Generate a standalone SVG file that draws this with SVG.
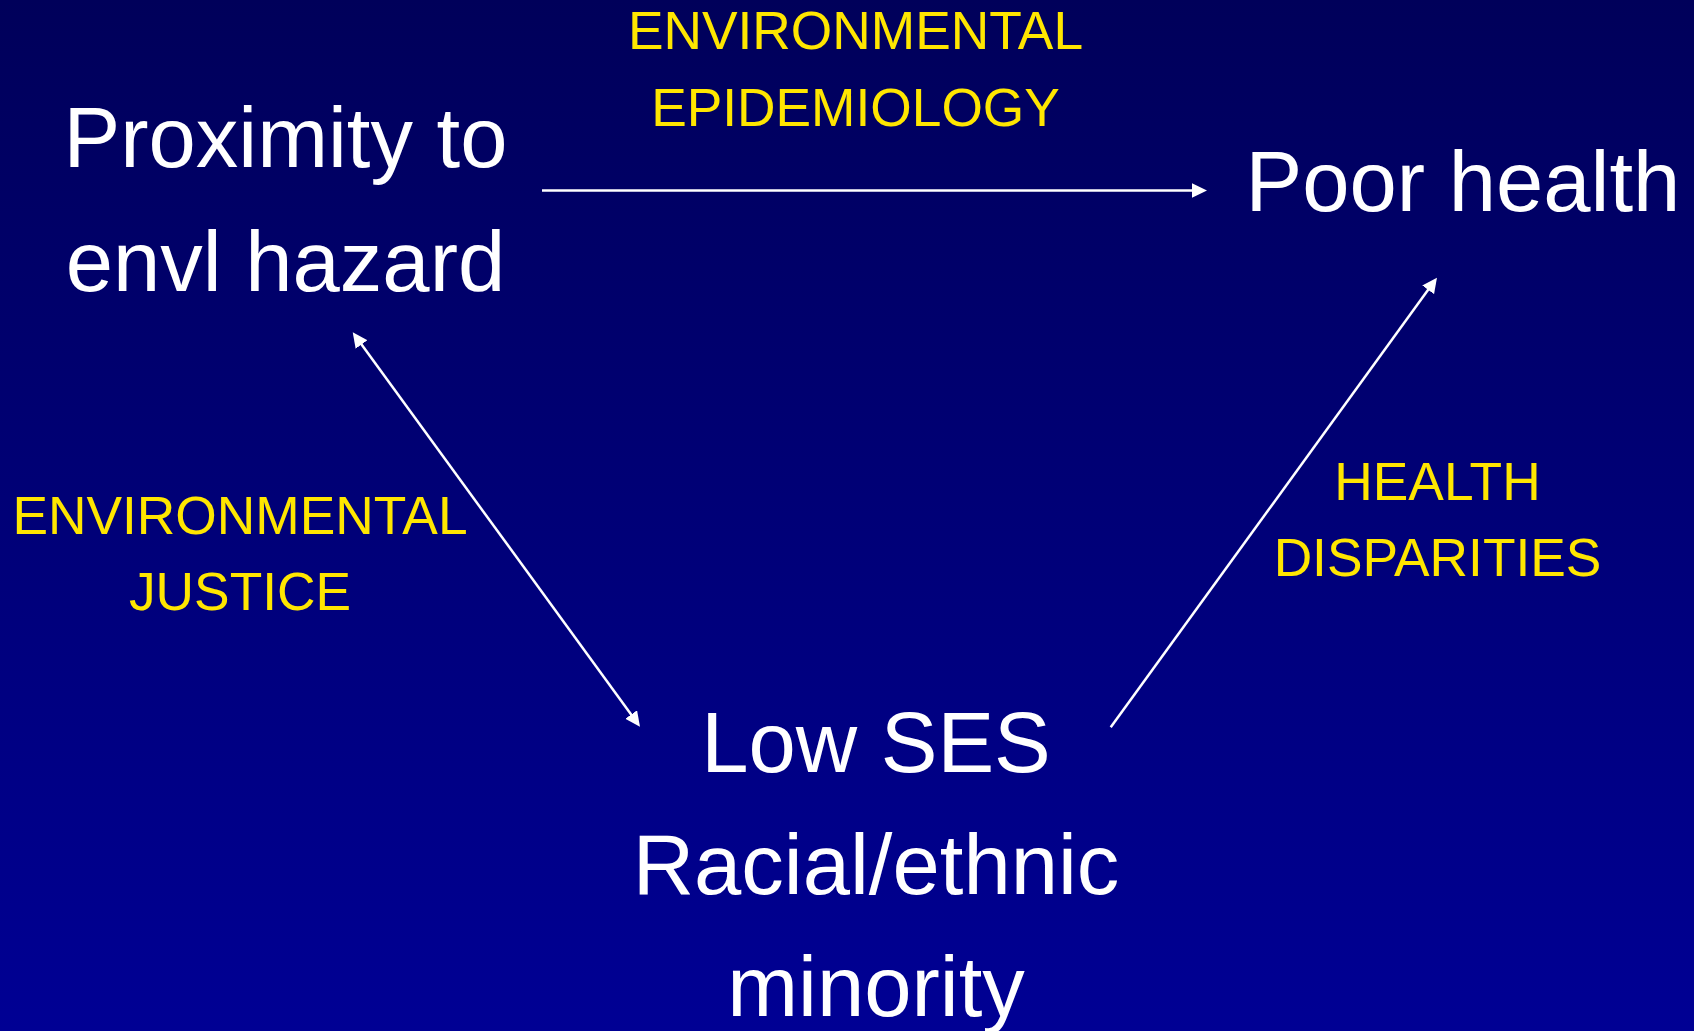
<svg xmlns="http://www.w3.org/2000/svg" width="1694" height="1031" viewBox="0 0 1694 1031">
  <defs>
    <linearGradient id="bg" x1="0" y1="0" x2="0" y2="1">
      <stop offset="0" stop-color="#00005A"/>
      <stop offset="1" stop-color="#000094"/>
    </linearGradient>
    <marker id="head" markerUnits="userSpaceOnUse" markerWidth="15" markerHeight="15" viewBox="0 0 15 14.6" refX="4" refY="7.3" orient="auto-start-reverse">
      <path d="M0,0 L15,7.3 L0,14.6 Z" fill="#FFFFFF"/>
    </marker>
    <style>
      .node { font-family: "Liberation Sans", Arial, sans-serif; font-size: 85px; fill: #FFFFFF; text-anchor: middle; }
      .label { font-family: "Liberation Sans", Arial, sans-serif; font-size: 53.3px; fill: #FFE600; text-anchor: middle; }
      .link { stroke: #FFFFFF; stroke-width: 2.5; fill: none; }
    </style>
  </defs>

  <rect width="1694" height="1031" fill="url(#bg)"/>

  <!-- arrows between the three factors -->
  <g id="connectors">
    <line class="link" x1="542" y1="190.5" x2="1196" y2="190.5" marker-end="url(#head)"/>
    <line class="link" x1="359.2" y1="341.2" x2="633.5" y2="717.8" marker-start="url(#head)" marker-end="url(#head)"/>
    <line class="link" x1="1110.7" y1="727.3" x2="1430.5" y2="286.6" marker-end="url(#head)"/>
  </g>

  <g id="node-hazard">
    <text class="node" x="285.5" y="167">Proximity to</text>
    <text class="node" x="285.5" y="290.5">envl hazard</text>
  </g>

  <g id="node-health">
    <text class="node" x="1463" y="211">Poor health</text>
  </g>

  <g id="node-ses">
    <text class="node" x="876" y="771.5">Low SES</text>
    <text class="node" x="876" y="894">Racial/ethnic</text>
    <text class="node" x="876" y="1016">minority</text>
  </g>

  <g id="label-epidemiology">
    <text class="label" x="855.5" y="49">ENVIRONMENTAL</text>
    <text class="label" x="855.5" y="126">EPIDEMIOLOGY</text>
  </g>

  <g id="label-justice">
    <text class="label" x="240" y="534">ENVIRONMENTAL</text>
    <text class="label" x="240" y="610">JUSTICE</text>
  </g>

  <g id="label-disparities">
    <text class="label" x="1437.5" y="500">HEALTH</text>
    <text class="label" x="1437.5" y="576">DISPARITIES</text>
  </g>
</svg>
